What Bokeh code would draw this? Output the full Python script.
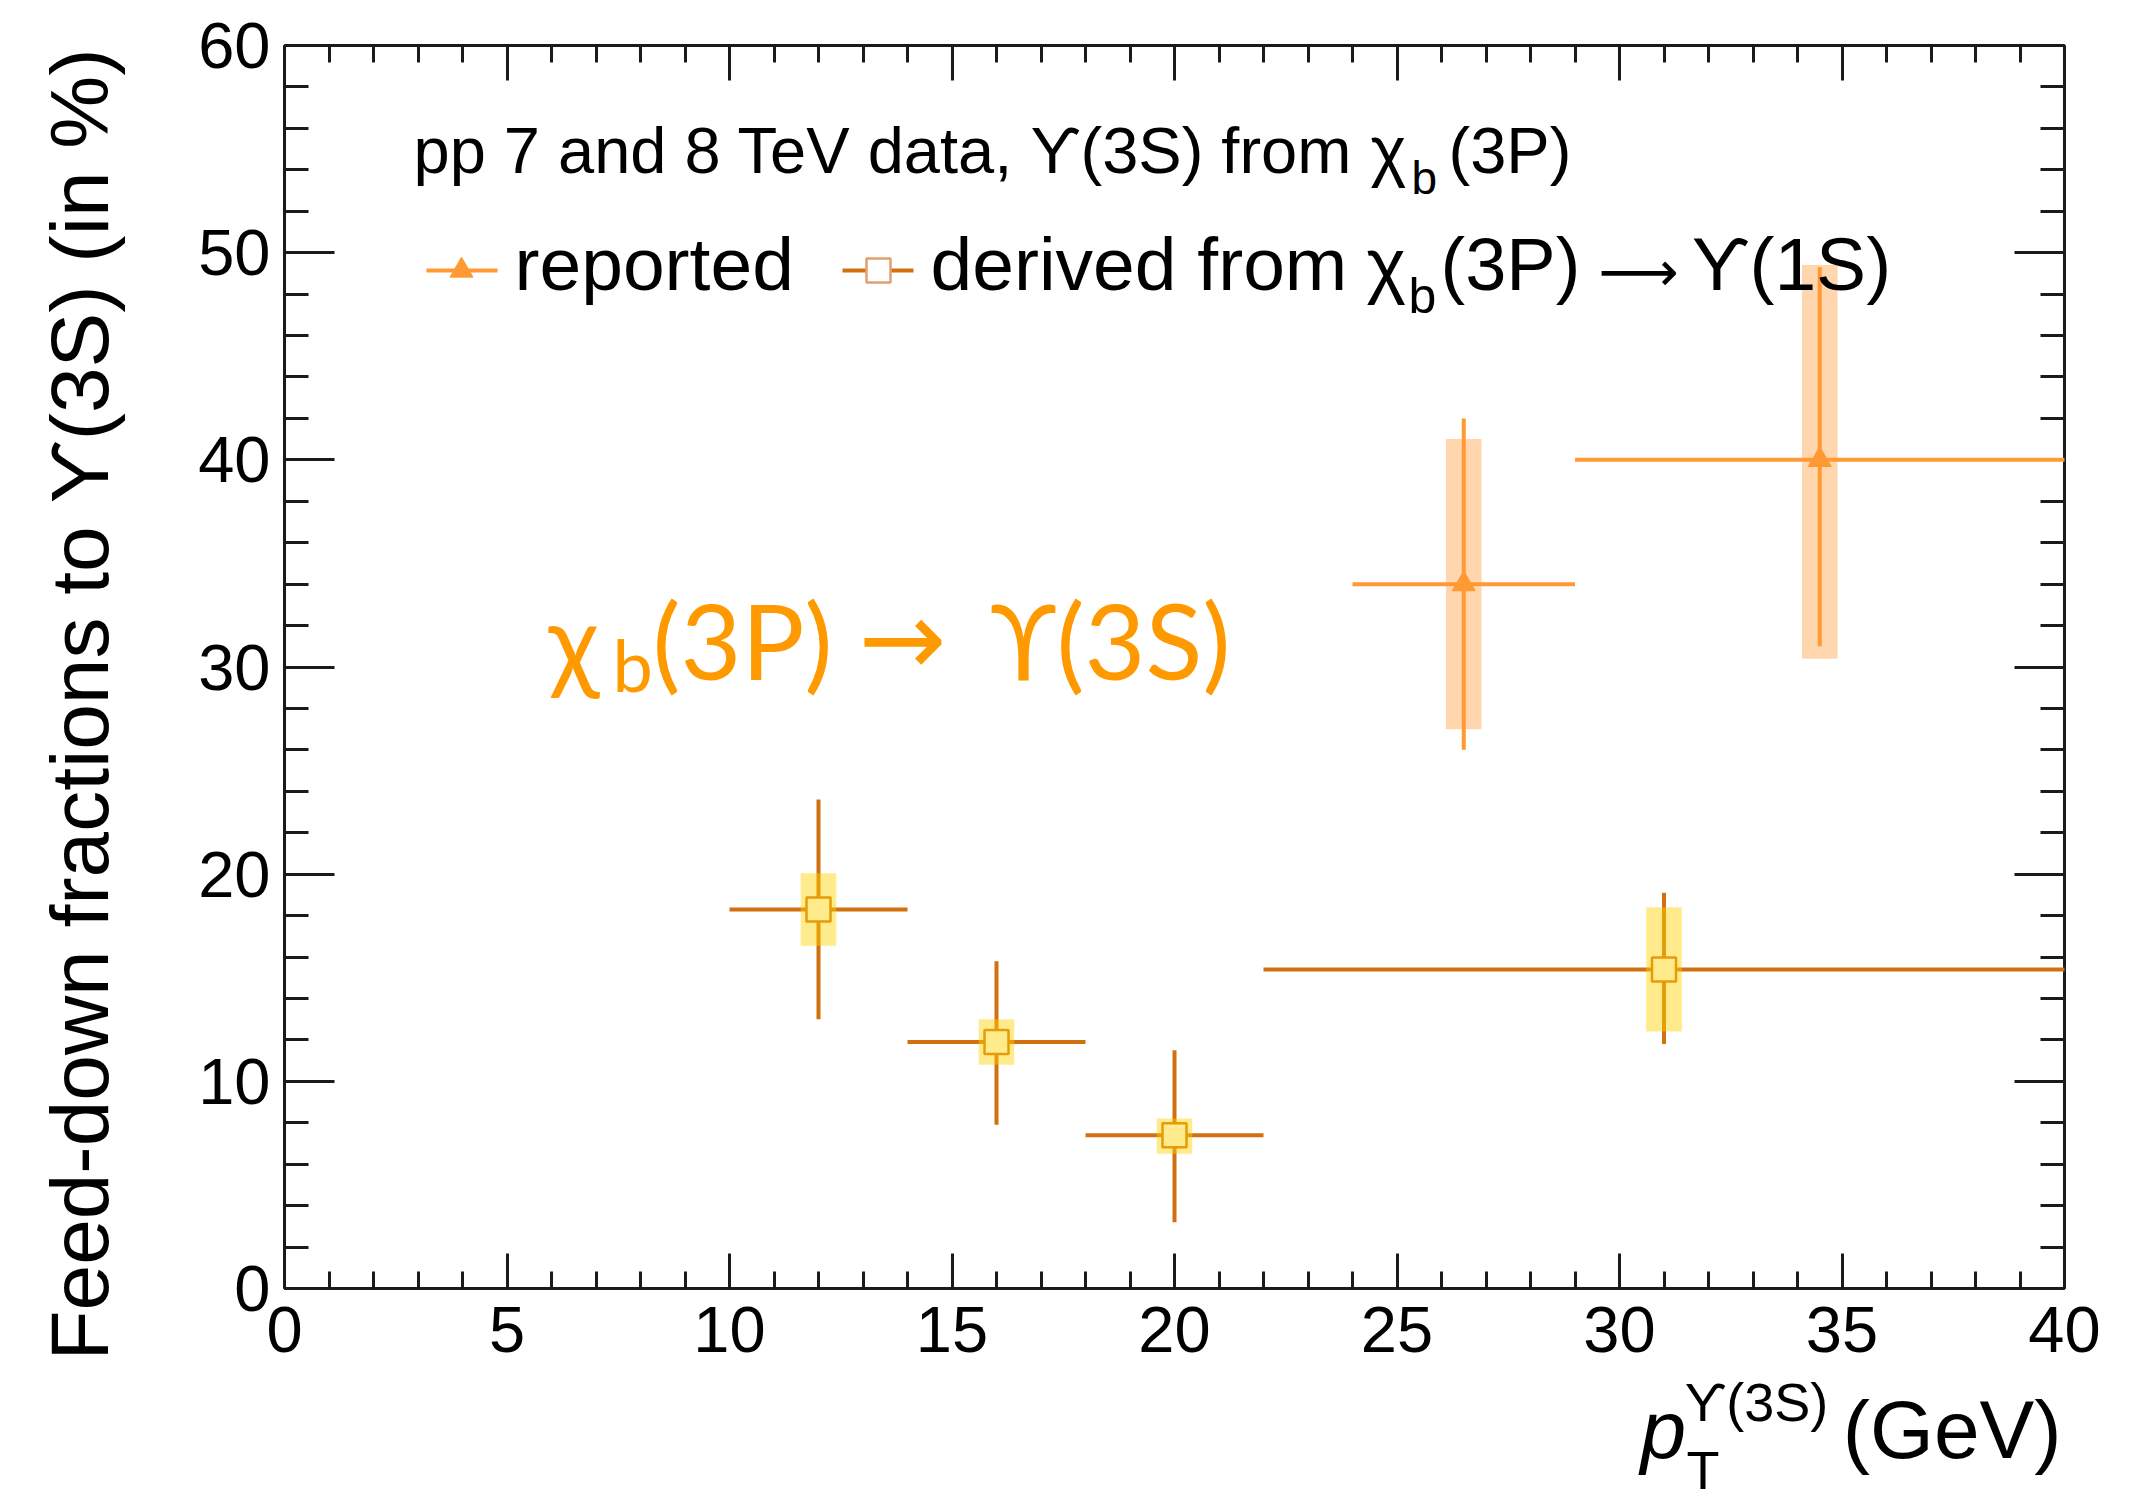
import math

from bokeh.embed import file_html
from bokeh.models import Label, LinearAxis, Range1d, SingleIntervalTicker
from bokeh.plotting import figure
from bokeh.resources import INLINE

# ---------------------------------------------------------------------------
# Feed-down fractions of chi_b(3P) into Upsilon(3S), pp at 7 and 8 TeV
# ---------------------------------------------------------------------------

# reported measurement
rep_pt = [26.5, 34.5]
rep_pt_lo = [24.0, 29.0]
rep_pt_hi = [29.0, 40.0]
rep_frac = [34.0, 40.0]
rep_stat_dn = [8.0, 9.0]
rep_stat_up = [8.0, 9.3]
rep_syst_dn = [7.0, 9.6]
rep_syst_up = [7.0, 9.4]

# derived from chi_b(3P) -> Upsilon(1S)
der_pt = [12.0, 16.0, 20.0, 31.0]
der_pt_lo = [10.0, 14.0, 18.0, 22.0]
der_pt_hi = [14.0, 18.0, 22.0, 40.0]
der_frac = [18.3, 11.9, 7.4, 15.4]
der_stat_dn = [5.3, 4.0, 4.2, 3.6]
der_stat_up = [5.3, 3.9, 4.1, 3.7]
der_syst_dn = [1.75, 1.1, 0.9, 3.0]
der_syst_up = [1.75, 1.1, 0.8, 3.0]

# axis ranges / tick spacing
X_RANGE = (0, 40)
Y_RANGE = (0, 60)
X_MAJOR, Y_MAJOR = 5, 10

# ---------------------------------------------------------------------------
# layout: the plotting frame spans the whole canvas, the axes box sits at
# fixed pixel edges inside it
W, H = 2151, 1502
FL, FR, FT, FB = 284, 2064, 45, 1288


def dx(px):
    return X_RANGE[0] + (px - FL) * (X_RANGE[1] - X_RANGE[0]) / (FR - FL)


def dy(py):
    return Y_RANGE[0] + (FB - py) * (Y_RANGE[1] - Y_RANGE[0]) / (FB - FT)


FONT = "Liberation Sans"
INK = "#1a1a1a"
C_REP = "#FF9933"
C_DER = "#D2700F"
C_DER_BOX = "#FFD200"
C_NOTE = "#FF9900"
BOX_W = 0.8
BASE_SHIFT = 0.38   # em offset between label anchor and drawn baseline

p = figure(
    width=W, height=H, title=None,
    x_range=Range1d(dx(0), dx(W)), y_range=Range1d(dy(H), dy(0)),
    x_axis_type=None, y_axis_type=None,
    output_backend="svg", toolbar_location=None,
    min_border=0, min_border_left=0, min_border_right=0,
    min_border_top=0, min_border_bottom=0,
    background_fill_color="white", border_fill_color="white",
)
p.outline_line_color = None

bottom_ax = LinearAxis(fixed_location=Y_RANGE[0], bounds=X_RANGE)
top_ax = LinearAxis(fixed_location=Y_RANGE[1], bounds=X_RANGE)
left_ax = LinearAxis(fixed_location=X_RANGE[0], bounds=Y_RANGE)
right_ax = LinearAxis(fixed_location=X_RANGE[1], bounds=Y_RANGE)
p.add_layout(bottom_ax, "below")
p.add_layout(top_ax, "above")
p.add_layout(left_ax, "left")
p.add_layout(right_ax, "right")

for ax, is_x in ((bottom_ax, True), (top_ax, True), (left_ax, False), (right_ax, False)):
    ax.ticker = SingleIntervalTicker(interval=X_MAJOR if is_x else Y_MAJOR, num_minor_ticks=5)
    ax.major_tick_in = 35 if is_x else 50
    ax.major_tick_out = 0
    ax.minor_tick_in = 17 if is_x else 24
    ax.minor_tick_out = 0
    ax.axis_line_color = INK
    ax.axis_line_width = 3
    ax.major_tick_line_color = INK
    ax.major_tick_line_width = 3
    ax.minor_tick_line_color = INK
    ax.minor_tick_line_width = 3
    ax.major_label_text_font = FONT
    ax.major_label_text_color = "black"
    ax.major_label_text_font_size = "65px"

top_ax.major_label_overrides = {float(v): "" for v in range(X_RANGE[0], X_RANGE[1] + 1, X_MAJOR)}
right_ax.major_label_overrides = {float(v): "" for v in range(Y_RANGE[0], Y_RANGE[1] + 1, Y_MAJOR)}
bottom_ax.major_label_standoff = 18
left_ax.major_label_standoff = 14

# ---- derived points --------------------------------------------------------
d_lo = [v - e for v, e in zip(der_frac, der_stat_dn)]
d_hi = [v + e for v, e in zip(der_frac, der_stat_up)]
d_blo = [v - e for v, e in zip(der_frac, der_syst_dn)]
d_bhi = [v + e for v, e in zip(der_frac, der_syst_up)]
p.segment(x0=der_pt_lo, x1=der_pt_hi, y0=der_frac, y1=der_frac,
          line_color=C_DER, line_width=4, level="annotation")
p.segment(x0=der_pt, x1=der_pt, y0=d_lo, y1=d_hi,
          line_color=C_DER, line_width=4, level="annotation")
p.scatter(der_pt, der_frac, marker="square", size=24, fill_color="white",
          line_color=C_DER, line_width=2.5, level="annotation")
p.quad(left=[x - BOX_W / 2 for x in der_pt], right=[x + BOX_W / 2 for x in der_pt],
       bottom=d_blo, top=d_bhi, fill_color=C_DER_BOX, fill_alpha=0.45, line_color=None,
       level="annotation")

# ---- reported points -------------------------------------------------------
r_lo = [v - e for v, e in zip(rep_frac, rep_stat_dn)]
r_hi = [v + e for v, e in zip(rep_frac, rep_stat_up)]
r_blo = [v - e for v, e in zip(rep_frac, rep_syst_dn)]
r_bhi = [v + e for v, e in zip(rep_frac, rep_syst_up)]
p.quad(left=[x - BOX_W / 2 for x in rep_pt], right=[x + BOX_W / 2 for x in rep_pt],
       bottom=r_blo, top=r_bhi, fill_color=C_REP, fill_alpha=0.4, line_color=None,
       level="annotation")
p.segment(x0=rep_pt_lo, x1=rep_pt_hi, y0=rep_frac, y1=rep_frac,
          line_color=C_REP, line_width=4, level="annotation")
p.segment(x0=rep_pt, x1=rep_pt, y0=r_lo, y1=r_hi,
          line_color=C_REP, line_width=4, level="annotation")
p.scatter(rep_pt, rep_frac, marker="triangle", size=23, fill_color=C_REP,
          line_color=C_REP, level="annotation")


# ---- texts -----------------------------------------------------------------
def text(txt, px, py, size, color="black", align="left", font=FONT, style="normal", angle=0.0):
    """Place a text with its baseline at canvas pixel (px, py)."""
    shift = BASE_SHIFT * size
    ax_, ay_ = px, py - shift
    if angle:
        ax_, ay_ = px - shift, py
    p.add_layout(Label(
        x=dx(ax_), y=dy(ay_), text=txt, text_font=font, text_font_size=f"{size}px",
        text_color=color, text_align=align, text_baseline="alphabetic",
        text_font_style=style, angle=angle,
    ))


# header
text("pp 7 and 8 TeV data, ϒ(3S) from", 413, 175, 65)
text("χ", 1370, 175, 68)
text("b", 1411, 195, 46)
text("(3P)", 1448, 175, 65)

# legend keys
LEG_Y = 270
p.segment(x0=[dx(426)], x1=[dx(497)], y0=[dy(LEG_Y)], y1=[dy(LEG_Y)], line_color=C_REP, line_width=4)
p.scatter([dx(461)], [dy(LEG_Y)], marker="triangle", size=23, fill_color=C_REP, line_color=C_REP)
p.segment(x0=[dx(842)], x1=[dx(913)], y0=[dy(LEG_Y)], y1=[dy(LEG_Y)], line_color=C_DER, line_width=4)
p.scatter([dx(878)], [dy(LEG_Y)], marker="square", size=24, fill_color="white",
          line_color="#E0A070", line_width=2.5)

text("reported", 514, 292, 75)
text("derived from", 930, 292, 75)
text("χ", 1366, 292, 75)
text("b", 1408, 314, 50)
text("(3P)", 1440, 292, 74)
text("⟶", 1598, 292, 56, font="DejaVu Sans")
text("ϒ(1S)", 1691, 292, 75)

# process annotation
NOTE_FONT = "Lato"
text("χ", 548, 678, 105, C_NOTE, font=NOTE_FONT)
text("b", 612, 691, 72, C_NOTE, font=NOTE_FONT)
text("(3P)", 652, 678, 105, C_NOTE, font=NOTE_FONT)
text("→", 858, 678, 105, C_NOTE, font="DejaVu Sans")
text("ϒ(3S)", 990, 678, 105, C_NOTE, font=NOTE_FONT)

# axis titles
text("Feed-down fractions to ϒ(3S) (in %)", 110, 48, 82, align="right", angle=math.pi / 2)
text("p", 1640, 1460, 82, style="italic")
text("ϒ(3S)", 1684, 1422, 54)
text("T", 1686, 1490, 54)
text("(GeV)", 2061, 1460, 82, align="right")

open("out.html", "w").write(file_html(p, INLINE))
